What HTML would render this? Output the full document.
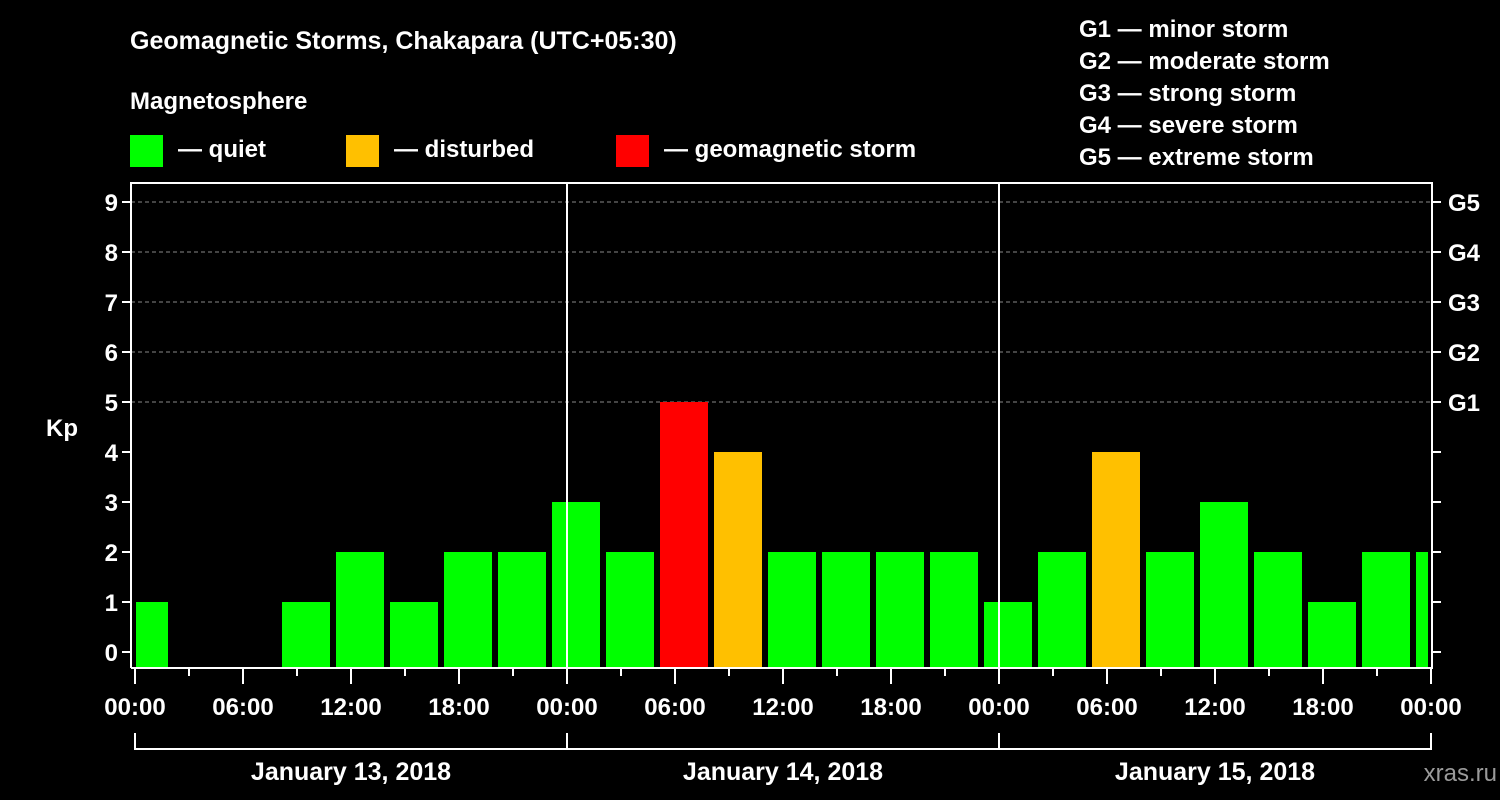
<!DOCTYPE html>
<html><head><meta charset="utf-8"><style>
html,body{margin:0;padding:0;background:#000;}
svg{display:block;font-family:"Liberation Sans",Arial,sans-serif;font-weight:bold;}
</style></head><body>
<svg id="chart" width="1500" height="800" viewBox="0 0 1500 800">
<rect x="0" y="0" width="1500" height="800" fill="#000"/>
<text x="130" y="49" fill="#fff" font-size="25">Geomagnetic Storms, Chakapara (UTC+05:30)</text>
<text x="130" y="109" fill="#fff" font-size="24">Magnetosphere</text>
<g><rect x="130" y="135" width="33" height="32" fill="#00ff00"/><text x="178" y="157" fill="#fff" font-size="24">— quiet</text></g>
<g><rect x="346" y="135" width="33" height="32" fill="#ffc000"/><text x="394" y="157" fill="#fff" font-size="24">— disturbed</text></g>
<g><rect x="616" y="135" width="33" height="32" fill="#ff0000"/><text x="664" y="157" fill="#fff" font-size="24">— geomagnetic storm</text></g>
<g fill="#fff" font-size="24">
<text x="1079" y="37">G1 — minor storm</text>
<text x="1079" y="69">G2 — moderate storm</text>
<text x="1079" y="101">G3 — strong storm</text>
<text x="1079" y="133">G4 — severe storm</text>
<text x="1079" y="165">G5 — extreme storm</text>
</g>
<text x="62" y="436" fill="#fff" font-size="24" text-anchor="middle">Kp</text>
<text x="1497" y="781" fill="#9a9a9a" font-size="24" text-anchor="end" font-weight="normal">xras.ru</text>
<g id="grid"></g><g id="bars"></g><g id="axes"></g>
</svg>
<script>
const kpValues=[1,null,null,1,2,1,2,2,3,2,5,4,2,2,2,2,1,2,4,2,3,2,1,2,2];
const yTicks=[0,1,2,3,4,5,6,7,8,9];
const gLabels=["G1","G2","G3","G4","G5"];
const xTickLabels=["00:00","06:00","12:00","18:00","00:00","06:00","12:00","18:00","00:00","06:00","12:00","18:00","00:00"];
const dayLabels=["January 13, 2018","January 14, 2018","January 15, 2018"];
const NS="http://www.w3.org/2000/svg";
const X0=135,PXH=18,Y0=652,PXU=50,BOT=668,TOP=183,LEFT=131,RIGHT=1432;
const xs=h=>X0+h*PXH; const ys=v=>Y0-v*PXU;
function mk(tag,attrs,parent){const e=document.createElementNS(NS,tag);for(const k in attrs)e.setAttribute(k,attrs[k]);parent.appendChild(e);return e;}
const grid=document.getElementById('grid'),bars=document.getElementById('bars'),axes=document.getElementById('axes');
// gridlines 5..9
for(let v=5;v<=9;v++){const l=mk('line',{x1:LEFT,x2:RIGHT,y1:ys(v),y2:ys(v),stroke:'#888','stroke-dasharray':'4,3','stroke-width':1},grid);

}
// bars: 3h slots, start offset -15px
kpValues.forEach((v,i)=>{if(v===null||v===undefined)return;
let x1=xs(i*3)-15,x2=x1+48;x1=Math.max(x1,X0+1);x2=Math.min(x2,xs(72)-3);
const col=v>=5?'#ff0000':(v>=4?'#ffc000':'#00ff00');
const r=mk('rect',{x:x1,y:ys(v),width:x2-x1,height:BOT-ys(v),fill:col},bars);

});
// frame
const fr=mk('path',{d:`M${LEFT} ${BOT} V${TOP} H${RIGHT} V${BOT} H${LEFT}`,fill:'none',stroke:'#fff','stroke-width':2},axes);


[24,48].forEach(h=>{const l=mk('line',{x1:xs(h),x2:xs(h),y1:TOP,y2:BOT,stroke:'#fff','stroke-width':2},axes);

});
// y ticks
yTicks.forEach(v=>{mk('line',{x1:LEFT-9,x2:LEFT,y1:ys(v),y2:ys(v),stroke:'#fff','stroke-width':2},axes);
mk('line',{x1:RIGHT,x2:RIGHT+9,y1:ys(v),y2:ys(v),stroke:'#fff','stroke-width':2},axes);
const t=mk('text',{x:LEFT-13,y:ys(v)+9,fill:'#fff','font-size':24,'text-anchor':'end'},axes);t.textContent=v;

});
gLabels.forEach((g,i)=>{const t=mk('text',{x:RIGHT+16,y:ys(5+i)+9,fill:'#fff','font-size':24},axes);t.textContent=g;

});
// x ticks
for(let h=0;h<=72;h+=3){const major=h%6===0;mk('line',{x1:xs(h),x2:xs(h),y1:BOT,y2:BOT+(major?16:8),stroke:'#fff','stroke-width':2},axes);}
xTickLabels.forEach((s,i)=>{const t=mk('text',{x:xs(i*6),y:715,fill:'#fff','font-size':24,'text-anchor':'middle'},axes);t.textContent=s;

});
// date bracket
mk('path',{d:`M${xs(0)} 733 V749 H${xs(72)} V733 M${xs(24)} 733 V749 M${xs(48)} 733 V749`,fill:'none',stroke:'#fff','stroke-width':2},axes);
dayLabels.forEach((s,i)=>{const t=mk('text',{x:xs(i*24+12),y:780,fill:'#fff','font-size':25,'text-anchor':'middle'},axes);t.textContent=s;

});
</script>
</body></html>
